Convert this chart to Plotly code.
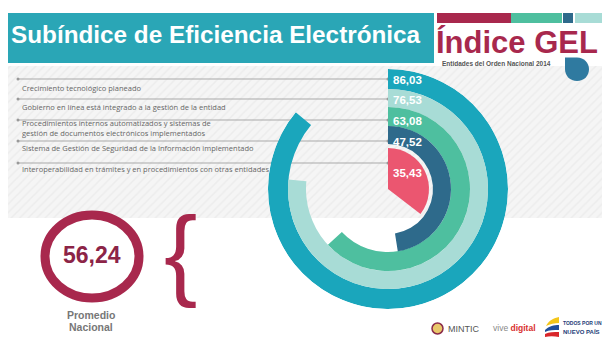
import plotly.graph_objects as go

# ---- data ----
categories = [
    "Crecimiento tecnológico planeado",
    "Gobierno en línea está integrado a la gestión de la entidad",
    "Procedimientos internos automatizados y sistemas de<br>gestión de documentos electrónicos implementados",
    "Sistema de Gestión de Seguridad de la Información implementado",
    "Interoperabilidad en trámites y en procedimientos con otras entidades",
]
values = [86.03, 76.53, 63.08, 47.52, 35.43]
value_labels = ["86,03", "76,53", "63,08", "47,52", "35,43"]
promedio = "56,24"

# ---- styles / layout ----
ring_colors = ["#1aa6bc", "#a8dcd6", "#4ebf9f", "#2e6a8b", "#eb5670"]
ring_inner = [100, 82, 63, 45, 0]
ring_outer = [120, 100, 82, 63, 41]
line_y = [79, 99, 120, 141, 163]
text_y = [88, 107, 128, 148, 169]
value_y = [80, 100, 121, 142, 173]
TEAL = "#2aa6b6"
CRIMSON = "#a8284d"
W, H = 602, 340

fig = go.Figure()

# hatched background (overlay pixel axes)
fig.add_trace(go.Scatter(
    x=[8, 602, 602, 8, 8], y=[66, 66, 218, 218, 66], mode="lines",
    line=dict(width=0), fill="toself", fillcolor="#f4f4f4",
    fillpattern=dict(shape="/", bgcolor="#f5f5f5", fgcolor="#e4e4e4", size=6, solidity=0.25),
    hoverinfo="skip", showlegend=False, xaxis="x", yaxis="y"))

# label lines with end dots
for ly in line_y:
    fig.add_trace(go.Scatter(
        x=[18, 388], y=[ly, ly], mode="lines+markers",
        line=dict(color="#a9a9a9", width=1), marker=dict(size=3, color="#999999"),
        hoverinfo="skip", showlegend=False, xaxis="x", yaxis="y"))

# radial bars
angles = [v * 3.6 for v in values]
fig.add_trace(go.Barpolar(
    r=[o - i for o, i in zip(ring_outer, ring_inner)],
    base=ring_inner,
    theta=[a / 2 for a in angles],
    width=angles,
    marker=dict(color=ring_colors, line=dict(width=0)),
    hoverinfo="skip", showlegend=False))

cx, cy, R = 388, 189, 120
fig.update_layout(
    width=W, height=H, margin=dict(l=0, r=0, t=0, b=0),
    paper_bgcolor="white", plot_bgcolor="rgba(0,0,0,0)",
    xaxis=dict(range=[0, W], domain=[0, 1], visible=False, fixedrange=True),
    yaxis=dict(range=[H, 0], domain=[0, 1], visible=False, fixedrange=True),
    polar=dict(
        domain=dict(x=[(cx - R) / W, (cx + R) / W], y=[(H - cy - R) / H, (H - cy + R) / H]),
        bgcolor="rgba(0,0,0,0)",
        radialaxis=dict(range=[0, R], visible=False, showgrid=False),
        angularaxis=dict(rotation=90, direction="clockwise", visible=False, showgrid=False),
    ),
    showlegend=False,
)

shapes = []
# title bar
shapes.append(dict(type="rect", xref="x", yref="y", x0=8, x1=434, y0=13, y1=63,
                   fillcolor=TEAL, line=dict(width=0), layer="below"))
# top-right colour bars
for x0, x1, c in [(437, 511, CRIMSON), (511, 562, "#4ebf9f"), (563, 573, "#2e6a8b"), (575, 602, "#a8dcd6")]:
    shapes.append(dict(type="rect", xref="x", yref="y", x0=x0, x1=x1, y0=13, y1=23,
                       fillcolor=c, line=dict(width=0)))
# drop shape
shapes.append(dict(type="path", xref="x", yref="y",
                   path="M 565 57.5 L 577 57.5 C 584 57.5 589 63 589 69 C 589 76 584 81 577 81 C 570 81 565 76 565 69 Z",
                   fillcolor="#2f7aa0", line=dict(width=0)))
# promedio circle
shapes.append(dict(type="circle", xref="x", yref="y", x0=45, x1=139, y0=215, y1=298,
                   line=dict(color=CRIMSON, width=9), fillcolor="rgba(0,0,0,0)"))
# MINTIC emblem
shapes.append(dict(type="circle", xref="x", yref="y", x0=432, x1=443, y0=323, y1=334,
                   line=dict(color="#8a2a4a", width=1.5), fillcolor="#e9c76a"))
# flag swoosh
shapes.append(dict(type="path", xref="x", yref="y",
                   path="M 546 326 C 549 320 554 318 559 317 L 559 323 C 555 323 550 324 546 326 Z",
                   fillcolor="#f4c61a", line=dict(width=0)))
shapes.append(dict(type="path", xref="x", yref="y",
                   path="M 545 330 C 549 326 554 325 559 325 L 559 330 C 554 330 549 330 545 332 Z",
                   fillcolor="#1f4e9c", line=dict(width=0)))
shapes.append(dict(type="path", xref="x", yref="y",
                   path="M 545 334 C 549 332 554 332 559 332 L 559 337 C 554 336 549 336 545 337 Z",
                   fillcolor="#d9262b", line=dict(width=0)))
fig.update_layout(shapes=shapes)

ann = []
def A(text, x, y, size, color, bold=False, family="Liberation Sans, Arial", xanchor="left", yanchor="middle", **kw):
    ann.append(dict(text=f"<b>{text}</b>" if bold else text, x=x, y=y, xref="x", yref="y",
                    showarrow=False, xanchor=xanchor, yanchor=yanchor, align="left",
                    font=dict(size=size, color=color, family=family), **kw))

A("Subíndice de Eficiencia Electrónica", 9, 34, 24.3, "white", bold=True)
A("Índice GEL", 434, 42, 31, CRIMSON, bold=True)
A("Entidades del Orden Nacional 2014", 440, 63, 6.5, "#555555", bold=True)

for cat, ty in zip(categories, text_y):
    A(cat, 20, ty, 7.5, "#666666", family="Open Sans, Noto Sans, sans-serif")
for lab, vy in zip(value_labels, value_y):
    A(lab, 391, vy, 11.5, "white", bold=True)

A(promedio, 92, 255, 23, "#8c2447", bold=True, xanchor="center")
A("Promedio", 91, 315, 10.5, "#777777", bold=True, xanchor="center")
A("Nacional", 91, 327, 10.5, "#777777", bold=True, xanchor="center")
A("{", 180, 252, 100, CRIMSON, xanchor="center", family="Liberation Sans, Arial")

A("MINTIC", 446, 329, 9, "#555555")
A("vive <b><span style='color:#d9302f'>digital</span></b>", 491, 328, 8.5, "#888888")
A("TODOS POR UN", 561, 323, 5, "#1e3c78", bold=True)
A("NUEVO PAÍS", 561, 331, 6, "#1e3c78", bold=True)

fig.update_layout(annotations=ann)
fig.write_html("out.html")
